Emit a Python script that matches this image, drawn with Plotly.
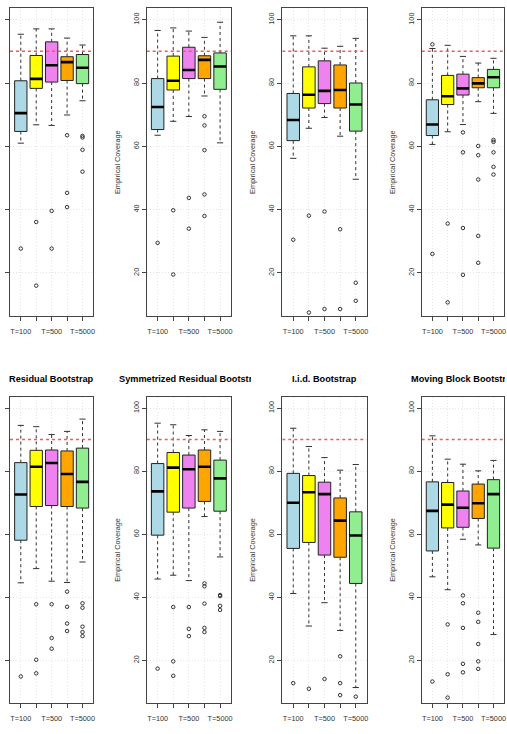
import plotly.graph_objects as go

# ---------------- data ----------------
tick_labels = ["T=100", "", "T=500", "", "T=5000"]
box_colors = ["lightblue", "yellow", "violet", "orange", "lightgreen"]
panel_titles = ["", "", "", "",
                "Residual Bootstrap", "Symmetrized Residual Bootstrap",
                "I.i.d. Bootstrap", "Moving Block Bootstrap"]
target_coverage = 90

upper_whisker = [
    [95.4, 97.1, 97.1, 94.2, 92.0],
    [96.6, 97.4, 96.4, 94.4, 99.2],
    [94.9, 94.9, 91.0, 91.6, 94.1],
    [90.9, 91.9, 88.4, 86.3, 87.8],
    [94.5, 94.1, 91.6, 92.6, 96.5],
    [95.2, 94.7, 91.3, 93.1, 92.6],
    [93.6, 87.8, 84.3, 80.3, 82.1],
    [91.2, 83.8, 82.2, 80.1, 83.4],
]
q3 = [
    [80.7, 88.7, 93.0, 88.3, 89.0],
    [81.4, 88.5, 91.3, 88.6, 89.5],
    [76.7, 85.1, 87.0, 85.7, 80.0],
    [74.7, 82.4, 82.8, 81.7, 84.3],
    [82.7, 86.6, 86.7, 86.4, 87.3],
    [82.4, 85.9, 85.1, 86.7, 83.5],
    [79.3, 78.6, 76.5, 71.5, 67.1],
    [76.6, 76.4, 73.7, 75.9, 77.3],
]
median = [
    [70.5, 81.3, 85.6, 86.6, 84.8],
    [72.4, 80.7, 84.1, 87.3, 85.2],
    [68.3, 76.3, 77.5, 77.8, 73.2],
    [66.9, 75.8, 78.3, 79.9, 81.8],
    [72.6, 81.4, 82.6, 79.1, 76.6],
    [73.6, 81.1, 80.6, 81.4, 77.7],
    [70.0, 73.3, 72.7, 64.3, 59.6],
    [67.4, 69.4, 68.4, 69.8, 72.7],
]
q1 = [
    [64.7, 78.3, 80.3, 80.8, 79.8],
    [65.3, 77.8, 81.4, 81.4, 78.0],
    [61.8, 72.1, 73.5, 72.1, 64.8],
    [63.4, 73.2, 76.2, 78.5, 78.5],
    [58.1, 68.8, 69.1, 68.8, 68.3],
    [59.7, 67.0, 68.3, 70.4, 67.3],
    [55.5, 57.4, 53.4, 52.7, 44.4],
    [54.7, 62.0, 62.2, 65.0, 55.6],
]
lower_whisker = [
    [61.0, 66.8, 66.6, 69.9, 74.4],
    [63.5, 67.9, 69.4, 75.9, 61.1],
    [56.2, 65.7, 69.1, 63.2, 49.6],
    [60.6, 64.6, 66.9, 74.1, 70.4],
    [44.6, 49.1, 45.1, 44.7, 51.2],
    [45.8, 47.0, 45.3, 65.6, 52.8],
    [41.2, 30.9, 38.3, 29.5, 11.4],
    [46.5, 42.4, 58.4, 56.6, 28.2],
]
outliers = [
    [[27.7], [36.1, 16.0], [39.6, 27.7], [63.5, 45.3, 40.8], [63.3, 62.8, 58.9, 52.0]],
    [[29.5], [39.8, 19.5], [43.7, 34.0], [69.5, 66.6, 58.8, 44.8, 38.0], []],
    [[30.5], [38.1, 7.5], [39.4, 8.6], [33.8, 8.6], [16.9, 11.2]],
    [[92.2, 26.0], [35.6, 10.7], [64.4, 58.1, 34.2, 19.4], [60.1, 57.2, 49.5, 31.7, 23.2],
     [62.0, 61.4, 58.1, 53.5, 51.1]],
    [[14.9], [37.8, 20.2, 15.9], [37.8, 27.1, 23.7], [41.8, 37.0, 31.7, 29.3],
     [38.1, 36.7, 30.7, 29.0, 27.7]],
    [[17.4], [36.9, 19.7, 15.1], [36.9, 30.0, 27.7], [44.4, 43.5, 38.0, 30.3, 29.0],
     [40.7, 40.4, 37.3, 36.0]],
    [[12.8], [11.0], [14.1], [21.3, 12.8, 9.0], [8.5]],
    [[13.3], [31.4, 15.6, 8.2], [40.6, 38.1, 30.3, 18.9, 16.2], [35.1, 32.2, 25.2, 19.7, 17.3], []],
]

# ---------------- layout geometry (pixels) ----------------
W, H = 507, 734
col_px = [(10.0, 93.3), (146.7, 231.0), (282.3, 366.7), (421.7, 504.2)]
row_px = [(8.3, 316.0), (396.7, 703.3)]
x_range = [0.3, len(tick_labels) + 0.7]
y_range = [6.4, 103.6]
box_width = 0.8
staple_half = 0.2
med_half = 0.4
font_family = "Liberation Sans, Arial, sans-serif"
frame_color = "#444444"
text_color = "#333333"
grid_color = "#e6e6e6"

fig = go.Figure()

for p in range(8):
    n = p + 1
    xa = "x" if n == 1 else f"x{n}"
    ya = "y" if n == 1 else f"y{n}"
    positions = list(range(1, len(tick_labels) + 1))

    # boxes
    for i, pos in enumerate(positions):
        fig.add_trace(go.Box(
            x=[pos], q1=[q1[p][i]], median=[median[p][i]], q3=[q3[p][i]],
            lowerfence=[q1[p][i]], upperfence=[q3[p][i]],
            width=box_width, whiskerwidth=0,
            fillcolor=box_colors[i], line=dict(color="#222222", width=1),
            xaxis=xa, yaxis=ya, showlegend=False, hoverinfo="skip",
        ))

    # dashed whiskers
    wx, wy = [], []
    for i, pos in enumerate(positions):
        wx += [pos, pos, None, pos, pos, None]
        wy += [q3[p][i], upper_whisker[p][i], None, q1[p][i], lower_whisker[p][i], None]
    fig.add_trace(go.Scatter(x=wx, y=wy, mode="lines",
                             line=dict(color="#333333", width=1, dash="3px,3px"),
                             xaxis=xa, yaxis=ya, showlegend=False, hoverinfo="skip"))

    # staples
    sx, sy = [], []
    for i, pos in enumerate(positions):
        sx += [pos - staple_half, pos + staple_half, None, pos - staple_half, pos + staple_half, None]
        sy += [upper_whisker[p][i]] * 2 + [None] + [lower_whisker[p][i]] * 2 + [None]
    fig.add_trace(go.Scatter(x=sx, y=sy, mode="lines",
                             line=dict(color="#333333", width=1),
                             xaxis=xa, yaxis=ya, showlegend=False, hoverinfo="skip"))

    # thick medians
    mx, my = [], []
    for i, pos in enumerate(positions):
        mx += [pos - med_half, pos + med_half, None]
        my += [median[p][i]] * 2 + [None]
    fig.add_trace(go.Scatter(x=mx, y=my, mode="lines",
                             line=dict(color="black", width=2.6),
                             xaxis=xa, yaxis=ya, showlegend=False, hoverinfo="skip"))

    # outliers
    ox, oy = [], []
    for i, pos in enumerate(positions):
        for v in outliers[p][i]:
            ox.append(pos)
            oy.append(v)
    fig.add_trace(go.Scatter(x=ox, y=oy, mode="markers",
                             marker=dict(symbol="circle-open", size=3.5,
                                         color="#333333", line=dict(width=1)),
                             xaxis=xa, yaxis=ya, showlegend=False, hoverinfo="skip"))

    # target coverage reference line (across the full x range)
    fig.add_trace(go.Scatter(x=x_range, y=[target_coverage, target_coverage], mode="lines",
                             line=dict(color="#f05a5a", width=1.5, dash="3px,3px"),
                             xaxis=xa, yaxis=ya, showlegend=False, hoverinfo="skip"))

    r, c = divmod(p, 4)
    x0p, x1p = col_px[c]
    y0p, y1p = row_px[r]
    xkey = "xaxis" if n == 1 else f"xaxis{n}"
    ykey = "yaxis" if n == 1 else f"yaxis{n}"
    fig.update_layout({
        xkey: dict(
            domain=[x0p / W, x1p / W], anchor=ya, automargin=False,
            range=x_range,
            tickmode="array", tickvals=positions, ticktext=tick_labels,
            ticks="outside", ticklen=4, tickcolor=frame_color,
            ticklabelstandoff=4,
            tickfont=dict(size=7.3, color=text_color, family=font_family),
            showline=True, mirror=True, linecolor=frame_color, linewidth=1,
            showgrid=True, gridcolor=grid_color, griddash="1px,2px", gridwidth=1,
            zeroline=False, fixedrange=True,
        ),
        ykey: dict(
            domain=[1 - y1p / H, 1 - y0p / H], anchor=xa, automargin=False,
            range=y_range,
            tickmode="array", tickvals=[20, 40, 60, 80, 100],
            ticks="outside", ticklen=4, tickcolor=frame_color,
            tickangle=-90, showticklabels=(c != 0),
            tickfont=dict(size=7.3, color=text_color, family=font_family),
            title=dict(text="Empirical Coverage" if c != 0 else "",
                       font=dict(size=7.3, color=text_color, family=font_family),
                       standoff=10),
            showline=True, mirror=True, linecolor=frame_color, linewidth=1,
            showgrid=True, gridcolor=grid_color, griddash="1px,2px", gridwidth=1,
            zeroline=False, fixedrange=True,
        ),
    })

    # panel titles (bottom row visible; long ones clipped like the reference)
    if panel_titles[p]:
        cx = (x0p + x1p) / 2
        ann = dict(text=f"<b>{panel_titles[p]}</b>", xref="paper", yref="paper",
                   y=1 - 379 / H, yanchor="middle", showarrow=False,
                   font=dict(size=9.2, color="black", family=font_family))
        if p == 5:
            ann.update(x=117 / W, xanchor="left", width=132, align="left")
        elif p == 7:
            ann.update(x=409 / W, xanchor="left", width=94, align="left")
        else:
            ann.update(x=cx / W, xanchor="center")
        fig.add_annotation(**ann)

fig.update_layout(
    width=W, height=H,
    margin=dict(l=0, r=0, t=0, b=0),
    paper_bgcolor="white", plot_bgcolor="white",
    boxmode="overlay", showlegend=False,
)

fig.write_html("out.html")
